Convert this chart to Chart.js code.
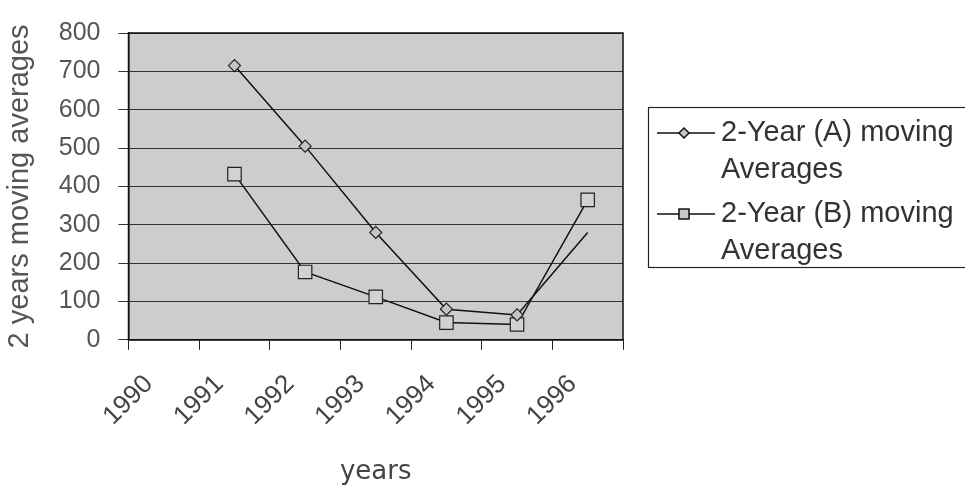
<!DOCTYPE html>
<html>
<head>
<meta charset="utf-8">
<script src="https://cdn.jsdelivr.net/npm/chart.js@4/dist/chart.umd.min.js"></script>
<style>
  html, body { margin: 0; padding: 0; background: #ffffff; }
  #wrap { width: 965px; height: 493px; }
</style>
</head>
<body>
<div id="wrap"><canvas id="c" width="965" height="493"></canvas></div>
<script>
const categories = ['1990', '1991', '1992', '1993', '1994', '1995', '1996'];
const seriesA = [null, 715, 505, 280, 80, 65, 280];
const seriesB = [null, 432, 177, 112, 45, 40, 365];
const seriesNames = ['2-Year (A) moving Averages', '2-Year (B) moving Averages'];
const yTitle = '2 years moving averages';
const xTitle = 'years';

const plotBg = {
  id: 'plotBg',
  beforeDraw(chart) {
    const { ctx, chartArea: a } = chart;
    ctx.save();
    ctx.fillStyle = '#cdcdcd';
    ctx.fillRect(a.left, a.top, a.right - a.left, a.bottom - a.top);
    ctx.restore();
  },
  afterDatasetsDraw(chart) {
    const { ctx, chartArea: a } = chart;
    ctx.save();
    ctx.strokeStyle = '#111';
    ctx.lineWidth = 1.5;
    ctx.strokeRect(a.left, a.top, a.right - a.left, a.bottom - a.top);
    ctx.restore();
  }
};

const customLegend = {
  id: 'customLegend',
  afterDraw(chart) {
    const ctx = chart.ctx;
    const x0 = 648, y0 = 107, w = 330, h = 160;
    ctx.save();
    ctx.strokeStyle = '#222';
    ctx.lineWidth = 1.2;
    ctx.strokeRect(x0 + 0.5, y0 + 0.5, w, h);
    ctx.font = '29px "Liberation Sans", Arial, sans-serif';
    ctx.textBaseline = 'middle';
    const rows = [133, 214];
    chart.data.datasets.forEach((ds, i) => {
      const y = rows[i];
      ctx.strokeStyle = '#111';
      ctx.lineWidth = 1.5;
      ctx.beginPath();
      ctx.moveTo(657, y);
      ctx.lineTo(715, y);
      ctx.stroke();
      ctx.fillStyle = '#c8c8c8';
      ctx.beginPath();
      if (ds.pointStyle === 'rectRot') {
        ctx.moveTo(684, y - 5); ctx.lineTo(689, y); ctx.lineTo(684, y + 5); ctx.lineTo(679, y); ctx.closePath();
      } else {
        ctx.rect(679, y - 5, 10, 10);
      }
      ctx.fill();
      ctx.stroke();
      ctx.fillStyle = '#333';
      const words = ds.label.split(' ');
      const lines = [];
      let cur = '';
      words.forEach(wd => {
        const t = cur ? cur + ' ' + wd : wd;
        if (ctx.measureText(t).width > 240 && cur) { lines.push(cur); cur = wd; } else { cur = t; }
      });
      lines.push(cur);
      lines.forEach((ln, k) => ctx.fillText(ln, 721, y + k * 37));
    });
    ctx.restore();
  }
};

new Chart(document.getElementById('c'), {
  type: 'line',
  data: {
    labels: categories,
    datasets: [
      {
        label: seriesNames[0],
        data: seriesA,
        borderColor: '#111',
        borderWidth: 1.5,
        pointStyle: 'rectRot',
        pointRadius: [0, 6, 6, 6, 6, 6, 0],
        pointBackgroundColor: '#c4c4c4',
        pointBorderColor: '#222',
        pointBorderWidth: 1.2,
        tension: 0
      },
      {
        label: seriesNames[1],
        data: seriesB,
        borderColor: '#111',
        borderWidth: 1.5,
        pointStyle: 'rect',
        pointRadius: 9.5,
        pointBackgroundColor: '#d2d2d2',
        pointBorderColor: '#222',
        pointBorderWidth: 1.2,
        tension: 0
      }
    ]
  },
  options: {
    responsive: false,
    animation: false,
    devicePixelRatio: 1,
    layout: { padding: { left: 0, right: 342, top: 33, bottom: 5 } },
    plugins: {
      legend: { display: false },
      tooltip: { enabled: false }
    },
    scales: {
      x: {
        offset: true,
        grid: {
          offset: true,
          drawOnChartArea: false,
          drawTicks: true,
          tickLength: 10,
          color: '#222'
        },
        border: { display: true, color: '#111', width: 1.5 },
        ticks: {
          autoSkip: false,
          maxRotation: 45,
          minRotation: 45,
          labelOffset: -15,
          padding: 19,
          color: '#444',
          font: { family: '"Liberation Sans", Arial, sans-serif', size: 26 }
        },
        title: {
          display: true,
          text: xTitle,
          color: '#444',
          padding: { top: 6, bottom: 0 },
          font: { family: '"DejaVu Sans", Verdana, sans-serif', size: 26 }
        }
      },
      y: {
        min: 0,
        max: 800,
        ticks: {
          stepSize: 100,
          padding: 18,
          color: '#555',
          font: { family: '"Liberation Sans", Arial, sans-serif', size: 25 }
        },
        grid: {
          color: '#333',
          lineWidth: 1,
          drawTicks: true,
          tickLength: 10
        },
        border: { display: true, color: '#111', width: 1.5 },
        title: {
          display: true,
          text: yTitle,
          color: '#555',
          padding: { top: 3, bottom: 3 },
          font: { family: '"Liberation Sans", Arial, sans-serif', size: 29 }
        }
      }
    }
  },
  plugins: [plotBg, customLegend]
});
</script>
</body>
</html>
